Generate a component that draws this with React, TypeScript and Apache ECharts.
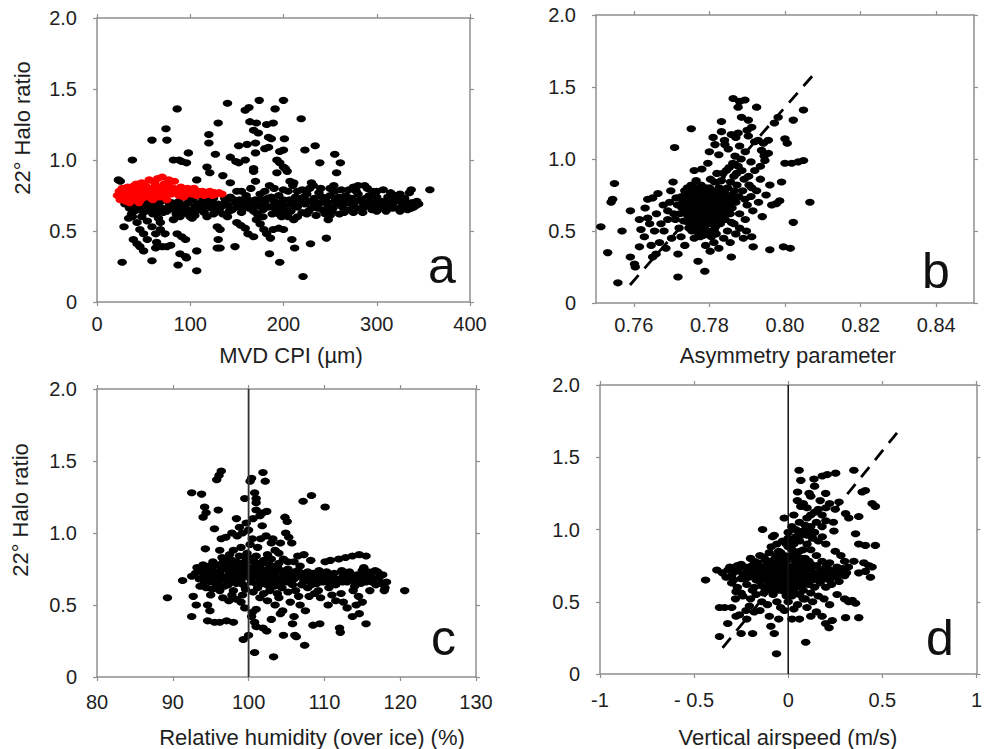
import React, { useEffect, useRef } from "react";
import * as echarts from "echarts";

// ---------- Tick labels ----------
const xTicksA = [0, 100, 200, 300, 400];
const xTicksB = [0.76, 0.78, 0.8, 0.82, 0.84];
const xTicksC = [80, 90, 100, 110, 120, 130];
const xTicksD = [-1, -0.5, 0, 0.5, 1];

// ---------- Panel a: MVD CPI (µm) vs halo ratio ----------
const mvdBlack: number[][] = [
  [86,1.36],[140,1.40],[174,1.42],[200,1.42],[163,1.37],[159,1.35],[191,1.36],[219,1.29],[130,1.26],[164,1.27],[171,1.26],[182,1.25],[189,1.26],[74,1.22],[120,1.18],[168,1.21],[173,1.19],[184,1.16],[187,1.15],[59,1.14],[75,1.14],[120,1.12],[152,1.10],[161,1.11],[170,1.12],[201,1.15],[180,1.08],[184,1.09],[234,1.10],[223,1.07],[98,1.05],[127,1.04],[196,1.06],[200,1.07],[143,1.02],[170,1.05],[38,1.00],[82,1.00],[88,1.00],[91,0.99],[96,0.98],[118,0.95],[149,0.99],[152,0.98],[159,1.00],[168,0.94],[193,1.00],[196,0.98],[200,0.95],[202,0.94],[239,0.98],[255,1.04],[261,0.98],[121,0.91],[135,0.89],[168,0.92],[193,0.91],[204,0.92],[257,0.91],[107,0.86],[170,0.85],[207,0.85],[211,0.84],[143,0.84],[232,0.82],[254,0.82],[275,0.81],[280,0.82],[287,0.82],[296,0.78],[307,0.79],[337,0.79],[357,0.79],[23,0.86],[25,0.85],
  [27,0.28],[30,0.69],[29,0.53],[34,0.59],[38,0.60],[39,0.44],[43,0.41],[46,0.39],[50,0.36],[43,0.56],[46,0.51],[50,0.48],[54,0.57],[59,0.53],[63,0.48],[54,0.44],[59,0.29],[63,0.38],[64,0.42],[66,0.59],[68,0.56],[68,0.51],[73,0.48],[70,0.39],[75,0.39],[79,0.40],[82,0.58],[89,0.60],[86,0.48],[91,0.46],[95,0.44],[87,0.26],[89,0.34],[95,0.32],[96,0.31],[107,0.36],[107,0.22],[102,0.59],[105,0.61],[114,0.64],[118,0.60],[129,0.53],[132,0.51],[129,0.38],[132,0.38],[130,0.44],[148,0.39],[150,0.56],[154,0.54],[159,0.52],[162,0.48],[168,0.46],[171,0.58],[175,0.55],[179,0.51],[182,0.48],[186,0.45],[185,0.34],[189,0.51],[195,0.52],[200,0.51],[198,0.60],[196,0.28],[209,0.44],[212,0.38],[211,0.58],[221,0.18],[229,0.41],[246,0.45],[248,0.58],[250,0.61],[243,0.65],
  [35,0.66],[38,0.70],[40,0.64],[42,0.68],[45,0.72],[47,0.66],[50,0.63],[52,0.69],[55,0.67],[57,0.71],[60,0.65],[62,0.68],[65,0.63],[67,0.70],[70,0.66],[72,0.72],[75,0.64],[78,0.68],[80,0.70],[83,0.65],[85,0.67],[88,0.71],[90,0.63],[93,0.68],[95,0.66],[98,0.70],[100,0.64],[103,0.72],[105,0.67],[108,0.69],[110,0.65],[113,0.71],[115,0.63],[118,0.68],[120,0.70],[123,0.66],[125,0.73],[128,0.64],[130,0.69],[133,0.67],[135,0.62],[138,0.71],[140,0.68],[143,0.74],[145,0.65],[148,0.70],[150,0.67],[153,0.72],[155,0.63],[158,0.69],[160,0.75],[163,0.66],[165,0.70],[168,0.64],[170,0.72],[173,0.68],[175,0.76],[178,0.65],[180,0.70],[183,0.73],[185,0.67],[188,0.62],[190,0.71],[193,0.69],[195,0.75],[198,0.66],[200,0.72],[203,0.68],[205,0.78],[208,0.64],[210,0.70],[213,0.74],[215,0.67],[218,0.72],[220,0.63],[223,0.69],[225,0.76],[228,0.71],[230,0.66],[233,0.73],[235,0.68],[238,0.77],[240,0.70],[243,0.64],[245,0.72],[248,0.68],[250,0.75],[253,0.66],[255,0.71],[258,0.69],[260,0.74],[263,0.67],[265,0.72],[268,0.70],[270,0.65],[273,0.73],[275,0.68],[278,0.71],[280,0.76],[283,0.66],[285,0.70],[288,0.73],[290,0.68],[293,0.71],[295,0.65],[298,0.70],[300,0.74],[303,0.67],[305,0.71],[308,0.69],[310,0.64],[313,0.72],[315,0.68],[318,0.70],[320,0.75],[323,0.66],[325,0.71],[328,0.69],[330,0.73],[333,0.65],[335,0.68],[338,0.70],[340,0.67],[343,0.71],[345,0.69],
  [155,0.78],[165,0.80],[178,0.60],[185,0.82],[195,0.62],[210,0.82],[215,0.60],[220,0.79],[230,0.84],[240,0.80],[245,0.62],[255,0.78],[265,0.63],[150,0.78],[140,0.60],[125,0.62],[110,0.75],[100,0.60],[95,0.74],[60,0.62],[48,0.60],[85,0.62],[120,0.76],[270,0.79],[290,0.80],[285,0.63],[300,0.64],[315,0.77],[325,0.64],[335,0.77],
  [37,0.62],[44,0.65],[51,0.71],[58,0.64],[64,0.67],[71,0.63],[77,0.70],[84,0.69],[91,0.66],[97,0.62],[104,0.65],[111,0.68],[117,0.72],[124,0.69],[131,0.65],[137,0.73],[142,0.64],[147,0.72],[152,0.69],[157,0.66],[162,0.72],[167,0.68],[172,0.62],[177,0.72],[182,0.67],[187,0.74],[192,0.65],[197,0.70],[202,0.64],[207,0.72],[212,0.67],[217,0.70],[222,0.74],[227,0.64],[232,0.70],[237,0.66],[242,0.74],[247,0.70],[252,0.64],[257,0.73],[262,0.70],[267,0.75],[272,0.70],[277,0.66],[282,0.72],[287,0.67],[292,0.75],[297,0.68],[302,0.70],[307,0.66],[312,0.74],[317,0.66],[322,0.72],[327,0.67],[332,0.70],[337,0.66],[342,0.68],[205,0.60],[225,0.62],[235,0.61],[260,0.62],[275,0.63],[180,0.78],[190,0.80],[200,0.79],[215,0.78],[228,0.80],[250,0.80],[262,0.79],[278,0.78],[300,0.78],[325,0.76]
];
const mvdRed: number[][] = [
  [22,0.75],[24,0.78],[25,0.72],[27,0.80],[28,0.74],[30,0.77],[31,0.71],[33,0.81],[34,0.75],[36,0.73],[37,0.79],[39,0.76],[40,0.82],[41,0.72],[43,0.78],[44,0.74],[46,0.80],[47,0.76],[49,0.73],[50,0.79],[52,0.82],[53,0.75],[55,0.77],[56,0.86],[58,0.73],[59,0.80],[61,0.76],[62,0.84],[64,0.78],[65,0.87],[67,0.74],[68,0.81],[70,0.88],[71,0.77],[73,0.79],[74,0.75],[76,0.82],[77,0.86],[79,0.78],[80,0.76],[82,0.80],[83,0.85],[85,0.77],[87,0.79],[88,0.75],[90,0.81],[92,0.77],[94,0.79],[95,0.76],[97,0.80],[99,0.78],[101,0.76],[103,0.79],[105,0.77],[107,0.75],[109,0.78],[111,0.76],[113,0.78],[115,0.75],[117,0.77],[119,0.76],[121,0.78],[124,0.75],[126,0.77],[128,0.76],[131,0.77],[134,0.76],[45,0.70],[35,0.70],[60,0.72],[75,0.72],[48,0.84],[42,0.83],[30,0.80],[26,0.76],[32,0.73],[38,0.77],[51,0.77],[57,0.78],[63,0.76],[69,0.79],[72,0.83],[78,0.81],[84,0.78],[89,0.78],[93,0.74],[98,0.77],[104,0.80]
];

// ---------- Panel b: asymmetry parameter vs halo ratio ----------
const asymPts: number[][] = [
  [0.7513,0.53],[0.7531,0.35],[0.7549,0.83],[0.7540,0.70],[0.7544,0.72],[0.7558,0.14],[0.7569,0.50],[0.7591,0.64],[0.7591,0.32],[0.7602,0.27],[0.7604,0.25],[0.7615,0.39],[0.7628,0.46],[0.7619,0.51],[0.7615,0.58],[0.7637,0.59],[0.7637,0.72],[0.7650,0.73],[0.7664,0.76],[0.7646,0.40],[0.7650,0.32],[0.7659,0.34],[0.7704,0.84],[0.7708,1.08],[0.7717,0.34],[0.7717,0.18],[0.7752,1.21],[0.7770,0.29],[0.7788,0.22],[0.7796,0.97],[0.7810,1.15],[0.7832,1.26],[0.7832,1.19],[0.7841,1.10],[0.7858,0.32],[0.7863,1.42],[0.7880,1.40],[0.7894,1.41],[0.7876,1.36],[0.7885,1.29],[0.7903,1.27],[0.7925,1.36],[0.7912,1.22],[0.7858,1.17],[0.7876,1.18],[0.7903,1.16],[0.7920,1.12],[0.7929,1.13],[0.7943,1.11],[0.7956,1.13],[0.7938,1.06],[0.7956,1.04],[0.7947,0.99],[0.7972,1.25],[0.7982,1.29],[0.8000,1.14],[0.8006,1.11],[0.8022,1.27],[0.8049,1.34],[0.8000,0.97],[0.8018,0.97],[0.8035,0.98],[0.8049,0.99],[0.7991,0.84],[0.7977,0.69],[0.7986,0.71],[0.8066,0.70],[0.8022,0.56],[0.7960,0.37],[0.7996,0.39],[0.8014,0.38],[0.7912,0.46],[0.7916,0.39],
  [0.7630,0.66],[0.7660,0.62],[0.7672,0.55],[0.7680,0.50],[0.7690,0.64],[0.7700,0.45],[0.7668,0.42],[0.7685,0.38],[0.7695,0.70],[0.7678,0.68],[0.7655,0.50],[0.7642,0.55],[0.7710,0.58],[0.7720,0.52],[0.7725,0.46],[0.7735,0.40],[0.7698,0.78],[0.7712,0.73],
  [0.7730,0.70],[0.7735,0.78],[0.7740,0.65],[0.7745,0.60],[0.7748,0.72],[0.7752,0.82],[0.7755,0.55],[0.7758,0.68],[0.7760,0.75],[0.7762,0.62],[0.7765,0.85],[0.7768,0.58],[0.7770,0.70],[0.7772,0.66],[0.7775,0.78],[0.7778,0.52],[0.7780,0.63],[0.7782,0.73],[0.7785,0.57],[0.7788,0.69],[0.7790,0.80],[0.7792,0.61],[0.7795,0.55],[0.7798,0.74],[0.7800,0.66],[0.7803,0.86],[0.7806,0.60],[0.7808,0.70],[0.7810,0.78],[0.7813,0.64],[0.7816,0.53],[0.7818,0.72],[0.7820,0.90],[0.7823,0.67],[0.7826,0.60],[0.7828,0.76],[0.7832,0.85],[0.7835,0.65],[0.7838,0.72],[0.7842,0.58],[0.7845,0.92],[0.7848,0.80],[0.7852,0.68],[0.7855,0.62],[0.7858,0.75],[0.7862,0.97],[0.7865,0.88],[0.7868,1.02],[0.7870,0.70],[0.7873,0.82],[0.7876,0.95],[0.7880,0.62],[0.7884,1.00],[0.7888,0.78],[0.7892,0.86],[0.7895,0.58],[0.7900,0.68],[0.7905,0.82],[0.7910,0.74],[0.7915,0.64],[0.7920,0.92],[0.7925,0.78],[0.7930,0.70],[0.7935,0.86],[0.7940,0.60],[0.7950,0.75],[0.7960,0.82],[0.7965,0.68],
  [0.7745,0.68],[0.7755,0.64],[0.7765,0.72],[0.7775,0.60],[0.7785,0.66],[0.7790,0.71],[0.7772,0.75],[0.7762,0.69],[0.7782,0.58],[0.7795,0.63],[0.7760,0.59],[0.7750,0.77],[0.7740,0.74],[0.7738,0.62],[0.7728,0.66],[0.7778,0.82],[0.7798,0.50],[0.7808,0.55],[0.7818,0.48],[0.7785,0.47],[0.7770,0.49],[0.7812,0.42],[0.7825,0.38],[0.7802,0.36],[0.7790,0.40],[0.7760,0.45],[0.7838,0.45],[0.7848,0.50],[0.7855,0.42],[0.7865,0.55],[0.7870,0.48],[0.7880,0.52],[0.7890,0.45],[0.7898,0.50],[0.7760,0.92],[0.7780,0.93],[0.7800,1.05],[0.7815,1.10],[0.7825,1.03],[0.7840,1.13],[0.7850,1.07],[0.7870,1.15],[0.7880,1.09],[0.7895,1.05],[0.7900,1.20],[0.7910,0.98],[0.7935,0.95],[0.7945,1.02],
  [0.7722,0.62],[0.7726,0.74],[0.7732,0.57],[0.7742,0.80],[0.7746,0.52],[0.7756,0.71],[0.7764,0.55],[0.7768,0.80],[0.7774,0.64],[0.7776,0.56],[0.7779,0.70],[0.7784,0.77],[0.7786,0.62],[0.7794,0.67],[0.7796,0.58],[0.7802,0.73],[0.7804,0.62],[0.7812,0.68],[0.7815,0.60],[0.7821,0.64],[0.7824,0.56],[0.7830,0.70],[0.7834,0.62],[0.7840,0.78],[0.7844,0.68],[0.7850,0.74],[0.7856,0.84],[0.7860,0.66],[0.7866,0.78],[0.7872,0.90],[0.7878,0.74],[0.7886,0.92],[0.7894,0.72],[0.7904,0.88],[0.7912,0.80],[0.7800,0.80],[0.7814,0.84],[0.7826,0.80],[0.7836,0.90],[0.7852,0.94],[0.7858,0.56],[0.7846,0.62],[0.7790,0.50],[0.7776,0.46],[0.7805,0.46],[0.7754,0.50],[0.7744,0.56],[0.7716,0.68],[0.7706,0.62],[0.7690,0.58],
  [0.7733,0.67],[0.7737,0.73],[0.7743,0.63],[0.7749,0.69],[0.7753,0.75],[0.7757,0.61],[0.7761,0.66],[0.7763,0.78],[0.7767,0.64],[0.7771,0.61],[0.7773,0.72],[0.7777,0.67],[0.7781,0.55],[0.7783,0.69],[0.7787,0.64],[0.7789,0.75],[0.7791,0.58],[0.7793,0.68],[0.7797,0.77],[0.7799,0.60],[0.7801,0.70],[0.7805,0.65],[0.7807,0.75],[0.7809,0.58],[0.7811,0.62],[0.7817,0.66],[0.7819,0.76],[0.7822,0.70],[0.7827,0.64],[0.7829,0.68],[0.7833,0.74],[0.7837,0.68],[0.7841,0.62],[0.7843,0.72],[0.7851,0.65],[0.7857,0.70],[0.7863,0.72],[0.7769,0.53],[0.7787,0.52],[0.7801,0.56],[0.7813,0.51],[0.7829,0.55],[0.7751,0.58],[0.7743,0.70],[0.7757,0.80]
];
const asymFit: number[][] = [[0.759, 0.125], [0.808, 1.6]];

// ---------- Panel c: relative humidity over ice (%) vs halo ratio ----------
const rhPts: number[][] = [
  [89.3,0.55],[91.3,0.67],[92.5,0.42],[92.7,0.56],[93.1,0.50],[92.5,1.28],[93.8,1.27],[94.2,1.18],[94.0,1.11],[94.4,1.14],[94.3,0.89],[94.6,0.50],[94.9,0.46],[95.3,0.80],[95.5,1.03],[95.8,1.37],[96.1,1.40],[96.4,1.43],[96.0,1.16],[96.2,0.88],[96.4,0.96],[94.6,0.39],[95.5,0.38],[96.2,0.38],[97.1,0.39],[98.0,0.38],[98.4,1.10],[98.8,1.04],[99.7,1.07],[99.5,1.24],[99.3,0.26],[100.0,0.29],[100.2,1.36],[100.4,1.38],[100.8,1.28],[101.0,1.24],[101.0,1.21],[101.9,1.42],[102.2,1.36],[101.0,1.16],[101.9,1.14],[102.4,1.15],[100.8,0.17],[103.3,0.14],[101.0,0.35],[101.9,0.34],[102.4,0.32],[104.6,0.29],[104.8,1.11],[105.1,1.08],[104.9,1.00],[105.3,0.97],[105.7,0.93],[106.1,0.29],[106.3,0.28],[107.4,0.22],[107.2,1.22],[108.3,1.26],[110.1,1.18],[106.5,0.84],[107.3,0.85],[108.2,0.81],[110.1,0.80],[110.8,0.81],[111.9,0.82],[112.8,0.83],[113.7,0.84],[114.6,0.85],[115.5,0.84],[115.5,0.37],[114.6,0.44],[113.7,0.42],[112.0,0.34],[112.1,0.31],[108.5,0.36],[109.4,0.37],[120.6,0.60],
  [93.0,0.72],[93.5,0.68],[94.0,0.75],[94.5,0.70],[95.0,0.66],[95.5,0.73],[96.0,0.78],[96.5,0.69],[97.0,0.75],[97.3,0.64],[97.8,0.81],[98.2,0.71],[98.6,0.77],[99.0,0.67],[99.4,0.74],[99.8,0.80],[100.2,0.70],[100.6,0.76],[101.0,0.65],[101.4,0.73],[101.8,0.79],[102.2,0.68],[102.6,0.75],[103.0,0.71],[103.4,0.63],[103.8,0.77],[104.2,0.69],[104.6,0.73],[105.0,0.66],[105.5,0.71],[106.0,0.68],[106.5,0.74],[107.0,0.64],[107.5,0.70],[108.0,0.67],[108.5,0.72],[109.0,0.65],[109.5,0.69],[110.0,0.71],[110.5,0.66],[111.0,0.70],[111.5,0.64],[112.0,0.68],[112.5,0.71],[113.0,0.66],[113.5,0.70],[114.0,0.63],[114.5,0.68],[115.0,0.74],[115.5,0.66],[116.0,0.71],[116.5,0.68],[117.0,0.73],[117.5,0.65],[118.0,0.62],[116.8,0.64],[115.2,0.76],[113.8,0.60],[112.2,0.58],[110.6,0.62],[109.2,0.60],[107.8,0.62],[106.2,0.60],[104.4,0.62],[102.8,0.60],[101.2,0.62],[99.6,0.61],[98.0,0.60],[96.8,0.63],[95.2,0.61],
  [95.0,0.57],[96.6,0.55],[97.4,0.53],[98.4,0.54],[99.0,0.52],[99.5,0.48],[100.5,0.45],[101.5,0.55],[102.5,0.53],[103.5,0.50],[104.0,0.55],[104.5,0.46],[105.5,0.52],[106.0,0.42],[106.8,0.50],[107.5,0.46],[108.0,0.56],[109.5,0.55],[110.5,0.50],[111.5,0.53],[112.5,0.52],[113.0,0.48],[114.2,0.50],[115.0,0.52],[105.8,0.37],[103.0,0.40],[104.2,0.44],[101.0,0.47],[100.4,0.42],[100.8,0.38],
  [97.0,0.97],[97.8,1.00],[98.5,0.98],[99.2,1.00],[100.0,1.02],[100.5,0.96],[101.2,0.90],[101.8,1.05],[102.3,0.98],[103.0,0.93],[103.5,0.88],[99.0,0.90],[98.0,0.88],[100.6,1.10],[101.5,1.12],[99.8,0.86],[102.5,0.85],[104.0,0.86],[105.2,0.80],[96.5,0.83],[97.5,0.85],[98.8,0.84],[100.0,0.83],[101.0,0.84],[102.0,0.81],[103.0,0.82],[94.0,0.78],[93.2,0.76],[92.5,0.70],
  [93.6,0.74],[94.2,0.66],[94.8,0.77],[95.4,0.69],[95.8,0.64],[96.3,0.74],[96.7,0.80],[97.2,0.70],[97.6,0.66],[98.0,0.76],[98.4,0.65],[98.8,0.72],[99.2,0.79],[99.6,0.70],[100.0,0.76],[100.4,0.66],[100.8,0.72],[101.2,0.78],[101.6,0.68],[102.0,0.74],[102.4,0.64],[102.8,0.78],[103.2,0.67],[103.6,0.73],[104.0,0.79],[104.4,0.66],[104.8,0.70],[105.2,0.75],[105.8,0.64],[106.3,0.71],[106.8,0.77],[107.3,0.67],[107.8,0.73],[108.3,0.64],[108.8,0.70],[109.3,0.74],[109.8,0.66],[110.3,0.73],[110.8,0.68],[111.3,0.72],[111.8,0.66],[112.3,0.74],[112.8,0.69],[113.3,0.73],[113.8,0.67],[114.3,0.71],[114.8,0.65],[115.3,0.70],[115.8,0.73],[116.3,0.66],[116.7,0.74],[117.2,0.69],[117.7,0.71],[118.2,0.66],[117.9,0.60],[116.0,0.60],[114.5,0.56],[111.0,0.57],[108.7,0.58],[106.6,0.56],[105.2,0.59],[103.8,0.58],[102.0,0.58],[100.6,0.59],[99.2,0.57],[97.8,0.57],[96.2,0.60],[94.4,0.62],[93.6,0.63],[97.0,0.82],[98.4,0.80],[99.6,0.83],[100.8,0.80],[102.6,0.83],[104.6,0.82],[106.0,0.80],[104.2,0.93],[103.2,0.96],[100.2,0.92],[101.6,0.96],
  [94.1,0.71],[94.7,0.73],[95.2,0.76],[95.7,0.70],[96.2,0.72],[96.6,0.76],[97.1,0.67],[97.5,0.73],[97.9,0.69],[98.3,0.74],[98.7,0.68],[99.1,0.71],[99.5,0.77],[99.9,0.73],[100.3,0.68],[100.7,0.73],[101.1,0.70],[101.5,0.76],[101.9,0.71],[102.3,0.72],[102.7,0.69],[103.1,0.74],[103.5,0.70],[103.9,0.67],[104.3,0.74],[104.7,0.67],[105.1,0.71],[105.6,0.69],[106.1,0.73],[106.6,0.70],[107.1,0.72],[107.6,0.67],[108.1,0.70],[108.6,0.68],[109.1,0.72],[110.2,0.68],[111.2,0.67],[112.4,0.66],[113.6,0.68],[116.2,0.69],[97.4,0.78],[98.9,0.78],[100.9,0.77],[102.9,0.76],[96.0,0.66],[99.3,0.64],[101.7,0.65],[104.1,0.64]
];
const rhRef: number[][] = [[100, 0], [100, 2]];

// ---------- Panel d: vertical airspeed (m/s) vs halo ratio ----------
const wPts: number[][] = [
  [-0.439,0.65],[-0.379,0.72],[-0.365,0.46],[-0.338,0.46],[-0.365,0.26],[-0.321,0.35],[-0.277,0.40],[-0.259,0.41],[-0.250,0.28],[-0.189,0.28],[-0.277,0.57],[-0.241,0.54],[-0.224,0.44],[-0.206,0.47],[-0.136,1.00],[-0.083,0.95],[-0.074,0.96],[-0.092,0.33],[-0.074,0.28],[-0.062,0.14],[-0.021,1.08],[0.058,1.41],[0.067,1.34],[0.049,1.20],[0.067,1.16],[0.111,1.25],[0.120,1.23],[0.137,1.35],[0.181,1.37],[0.208,1.38],[0.252,1.39],[0.199,1.25],[0.349,1.41],[0.393,1.26],[0.410,1.27],[0.446,1.18],[0.463,1.16],[0.305,1.11],[0.322,1.08],[0.375,1.09],[0.243,0.99],[0.181,0.95],[0.358,0.97],[0.375,0.90],[0.410,0.89],[0.463,0.89],[0.349,0.78],[0.402,0.77],[0.428,0.75],[0.446,0.74],[0.375,0.70],[0.410,0.71],[0.437,0.67],[0.358,0.49],[0.322,0.50],[0.305,0.39],[0.375,0.39],[0.199,0.35],[0.217,0.32],[0.234,0.37],[0.093,0.22],
  [-0.35,0.70],[-0.32,0.72],[-0.30,0.68],[-0.28,0.71],[-0.26,0.73],[-0.24,0.69],[-0.22,0.70],[-0.20,0.72],[-0.18,0.68],[-0.16,0.71],[-0.14,0.74],[-0.12,0.69],[-0.10,0.72],[-0.08,0.66],[-0.06,0.70],[-0.04,0.75],[-0.02,0.68],[0.00,0.72],[0.02,0.70],[0.04,0.66],[0.06,0.73],[0.08,0.69],[0.10,0.71],[0.12,0.67],[0.14,0.70],[0.16,0.68],[0.18,0.72],[0.20,0.66],[0.22,0.69],[0.24,0.71],[0.26,0.67],[0.28,0.70],[0.30,0.68],
  [-0.20,0.80],[-0.18,0.78],[-0.15,0.82],[-0.12,0.79],[-0.10,0.84],[-0.08,0.77],[-0.05,0.85],[-0.03,0.80],[0.00,0.88],[0.02,0.82],[0.04,0.78],[0.06,0.85],[0.09,0.80],[0.12,0.76],[0.15,0.82],[0.18,0.78],[-0.25,0.76],[-0.22,0.62],[-0.18,0.60],[-0.15,0.64],[-0.12,0.58],[-0.10,0.62],[-0.08,0.55],[-0.06,0.60],[-0.04,0.63],[-0.02,0.57],[0.00,0.61],[0.02,0.54],[0.04,0.60],[0.06,0.63],[0.08,0.58],[0.11,0.62],[0.14,0.60],[0.17,0.63],[0.20,0.60],[0.23,0.62],[-0.30,0.63],[-0.27,0.60],
  [-0.25,0.56],[-0.20,0.52],[-0.17,0.55],[-0.14,0.50],[-0.11,0.48],[-0.13,0.56],[-0.06,0.50],[-0.04,0.46],[-0.02,0.44],[0.00,0.50],[0.03,0.45],[0.05,0.48],[0.08,0.52],[0.10,0.46],[0.13,0.50],[0.16,0.54],[0.19,0.52],[0.22,0.48],[0.26,0.55],[0.30,0.52],[0.34,0.51],[0.15,0.43],[0.18,0.40],[0.12,0.40],[0.06,0.38],[0.02,0.38],[-0.05,0.38],[-0.10,0.40],[-0.15,0.44],[-0.18,0.43],[-0.22,0.38],[-0.30,0.46],[-0.28,0.52],
  [-0.03,0.92],[0.00,0.98],[0.02,1.02],[0.04,0.95],[0.06,1.05],[0.08,0.99],[0.10,1.08],[0.12,1.02],[0.14,1.12],[0.10,1.15],[0.15,1.05],[0.18,1.10],[0.20,1.15],[0.22,1.18],[0.25,1.14],[0.27,1.19],[0.03,1.10],[0.08,1.18],[0.05,1.26],[0.14,1.30],[0.17,1.20],[0.20,0.90],[0.25,0.85],[0.28,0.82],[0.30,0.78],[0.32,0.74],[0.26,0.74],[0.22,0.77],[0.10,0.90],[0.12,0.86],[0.16,0.92],[0.06,0.92],[-0.06,0.90],[-0.09,0.88],[-0.01,0.90],
  [-0.33,0.67],[-0.31,0.74],[-0.29,0.65],[-0.27,0.75],[-0.25,0.66],[-0.23,0.74],[-0.21,0.67],[-0.19,0.75],[-0.17,0.65],[-0.15,0.73],[-0.13,0.67],[-0.11,0.76],[-0.09,0.70],[-0.07,0.74],[-0.05,0.67],[-0.03,0.72],[-0.01,0.78],[0.01,0.66],[0.03,0.75],[0.05,0.70],[0.07,0.77],[0.09,0.66],[0.11,0.74],[0.13,0.70],[0.15,0.75],[0.17,0.66],[0.19,0.70],[0.21,0.73],[0.23,0.68],[0.25,0.72],[0.27,0.64],[0.29,0.73],[0.31,0.70],[-0.08,0.62],[-0.05,0.58],[-0.02,0.64],[0.01,0.58],[0.04,0.64],[-0.11,0.65],[-0.14,0.61],[-0.07,0.80],[-0.04,0.84],[0.02,0.86],[0.05,0.81],[0.08,0.86],[-0.02,0.82],[-0.13,0.81],[-0.16,0.77],[0.00,0.94],[0.03,0.90],[0.07,0.96],[0.10,0.96],[0.13,0.94],[0.05,0.99],[0.11,1.00],[0.14,0.98],[0.18,1.02],[0.20,1.06],[0.16,1.14],[0.12,1.10],[0.24,1.05],[0.09,0.52],[0.12,0.56],[0.06,0.55],[-0.01,0.54],[-0.09,0.58],[-0.19,0.58],[-0.23,0.66],
  [-0.14,0.68],[-0.12,0.72],[-0.10,0.66],[-0.08,0.73],[-0.07,0.68],[-0.06,0.77],[-0.05,0.64],[-0.04,0.71],[-0.03,0.66],[-0.02,0.75],[-0.01,0.62],[0.00,0.68],[0.01,0.74],[0.02,0.64],[0.03,0.69],[0.04,0.73],[0.05,0.62],[0.06,0.67],[0.07,0.71],[0.08,0.75],[0.09,0.63],[0.10,0.68],[0.11,0.78],[0.12,0.72],[0.13,0.65],[-0.09,0.78],[-0.06,0.82],[-0.02,0.79],[0.01,0.81],[0.04,0.84],[0.07,0.80],[-0.11,0.60],[-0.07,0.59],[-0.03,0.60],[0.03,0.57],[0.07,0.60],[0.02,0.91],[0.04,1.00],[0.09,1.03],[-0.17,0.70],[-0.21,0.74],[0.17,0.71],[0.20,0.74],[0.22,0.65],[0.25,0.69]
];
const wFit: number[][] = [[-0.349, 0.18], [0.582, 1.675]];
const wRef: number[][] = [[0, 0], [0, 2]];

// ---------- Texts ----------
const yName = "22° Halo ratio";
const xNames = ["MVD CPI (µm)", "Asymmetry parameter", "Relative humidity (over ice) (%)", "Vertical airspeed (m/s)"];
const panelLetters = ["a", "b", "c", "d"];

const FONT = "'Liberation Sans', Arial, Helvetica, sans-serif";
const TXT = "#1e1e1e";
const AXC = "#8f8f8f";

function buildOption() {
  const grids = [
    { left: 97, top: 18, width: 373, height: 284 },
    { left: 596, top: 15, width: 378, height: 288 },
    { left: 97, top: 389, width: 379, height: 288 },
    { left: 600, top: 385, width: 378, height: 289 },
  ];
  const xCfg = [
    { min: 0, max: 400, ticks: xTicksA, fmt: (v: number) => String(v) },
    { min: 0.75, max: 0.85, ticks: xTicksB, fmt: (v: number) => v.toFixed(2) },
    { min: 80, max: 130, ticks: xTicksC, fmt: (v: number) => String(v) },
    { min: -1, max: 1, ticks: xTicksD, fmt: (v: number) => (v === -0.5 ? "- 0.5" : String(v)) },
  ];
  const yFmt = (v: number) => (v === 0 ? "0" : v.toFixed(1));
  const xLabelMargin = [12, 12, 15, 16];

  const xAxis: any[] = [];
  const yAxis: any[] = [];
  grids.forEach((_, i) => {
    const c = xCfg[i];
    const base = {
      type: "value",
      gridIndex: i,
      min: c.min,
      max: c.max,
      splitLine: { show: false },
      axisLine: { show: true, onZero: false, lineStyle: { color: AXC, width: 1.5 } },
      axisTick: { show: true, length: 4, inside: false, customValues: c.ticks, lineStyle: { color: AXC, width: 1.2 } },
    };
    xAxis.push({
      ...base,
      position: "bottom",
      axisLabel: {
        show: true,
        customValues: c.ticks,
        formatter: c.fmt,
        color: TXT,
        fontSize: 20,
        fontFamily: FONT,
        margin: xLabelMargin[i],
        showMinLabel: true,
        showMaxLabel: true,
      },
    });
    xAxis.push({ ...base, position: "top", axisLabel: { show: false } });
    const ybase = {
      type: "value",
      gridIndex: i,
      min: 0,
      max: 2,
      interval: 0.5,
      splitLine: { show: false },
      axisLine: { show: true, onZero: false, lineStyle: { color: AXC, width: 1.5 } },
      axisTick: { show: true, length: 4, inside: false, lineStyle: { color: AXC, width: 1.2 } },
    };
    yAxis.push({
      ...ybase,
      position: "left",
      axisLabel: {
        show: true,
        formatter: yFmt,
        color: TXT,
        fontSize: 20,
        fontFamily: FONT,
        margin: 20,
        padding: [8, 0, 0, 0],
      },
    });
    yAxis.push({ ...ybase, position: "right", axisLabel: { show: false } });
  });

  const dot = (data: number[][], idx: number, color: string, z = 2) => ({
    type: "scatter",
    xAxisIndex: idx * 2,
    yAxisIndex: idx * 2,
    data,
    symbol: "circle",
    symbolSize: [9.5, 7],
    itemStyle: { color, opacity: 1 },
    z,
    silent: true,
  });
  const line = (data: number[][], idx: number, dashed: boolean, width: number, color: string) => ({
    type: "line",
    xAxisIndex: idx * 2,
    yAxisIndex: idx * 2,
    data,
    symbol: "none",
    lineStyle: { color, width, type: dashed ? [13, 9] : "solid" },
    z: 3,
    silent: true,
  });

  const series = [
    dot(mvdBlack, 0, "#000"),
    dot(mvdRed, 0, "#ff0000", 3),
    dot(asymPts, 1, "#000"),
    line(asymFit, 1, true, 2.8, "#000"),
    dot(rhPts, 2, "#000"),
    line(rhRef, 2, false, 1.8, "#333"),
    dot(wPts, 3, "#000"),
    line(wFit, 3, true, 2.8, "#000"),
    line(wRef, 3, false, 1.5, "#111"),
  ];

  const nameStyle = { fill: TXT, fontSize: 22, fontFamily: FONT };
  const graphic: any[] = [
    { type: "text", x: 22, y: 128, rotation: Math.PI / 2, style: { ...nameStyle, text: yName, align: "center", verticalAlign: "middle" } },
    { type: "text", x: 20, y: 510, rotation: Math.PI / 2, style: { ...nameStyle, text: yName, align: "center", verticalAlign: "middle" } },
    { type: "text", x: 291, y: 355, style: { ...nameStyle, text: xNames[0], align: "center", verticalAlign: "middle" } },
    { type: "text", x: 788, y: 355, style: { ...nameStyle, text: xNames[1], align: "center", verticalAlign: "middle" } },
    { type: "text", x: 312, y: 737, style: { ...nameStyle, text: xNames[2], align: "center", verticalAlign: "middle" } },
    { type: "text", x: 788, y: 737, style: { ...nameStyle, text: xNames[3], align: "center", verticalAlign: "middle" } },
  ];
  const letterPos = [[428, 266], [922, 271], [431, 638], [926, 638]];
  panelLetters.forEach((t, i) => {
    graphic.push({
      type: "text",
      x: letterPos[i][0],
      y: letterPos[i][1],
      style: { text: t, fill: "#111", fontSize: 50, fontFamily: FONT, align: "left", verticalAlign: "middle" },
      z: 10,
    });
  });

  return {
    animation: false,
    backgroundColor: "#ffffff",
    grid: grids.map((g) => ({ ...g, containLabel: false })),
    xAxis,
    yAxis,
    series,
    graphic,
  };
}

export default function App() {
  const ref = useRef<HTMLDivElement>(null);
  useEffect(() => {
    if (!ref.current) return;
    const chart = echarts.init(ref.current, null, { renderer: "svg" });
    chart.setOption(buildOption() as any);
    return () => chart.dispose();
  }, []);
  return (
    <div
      ref={ref}
      style={{ position: "fixed", left: 0, top: 0, width: 985, height: 749, background: "#fff" }}
    />
  );
}
